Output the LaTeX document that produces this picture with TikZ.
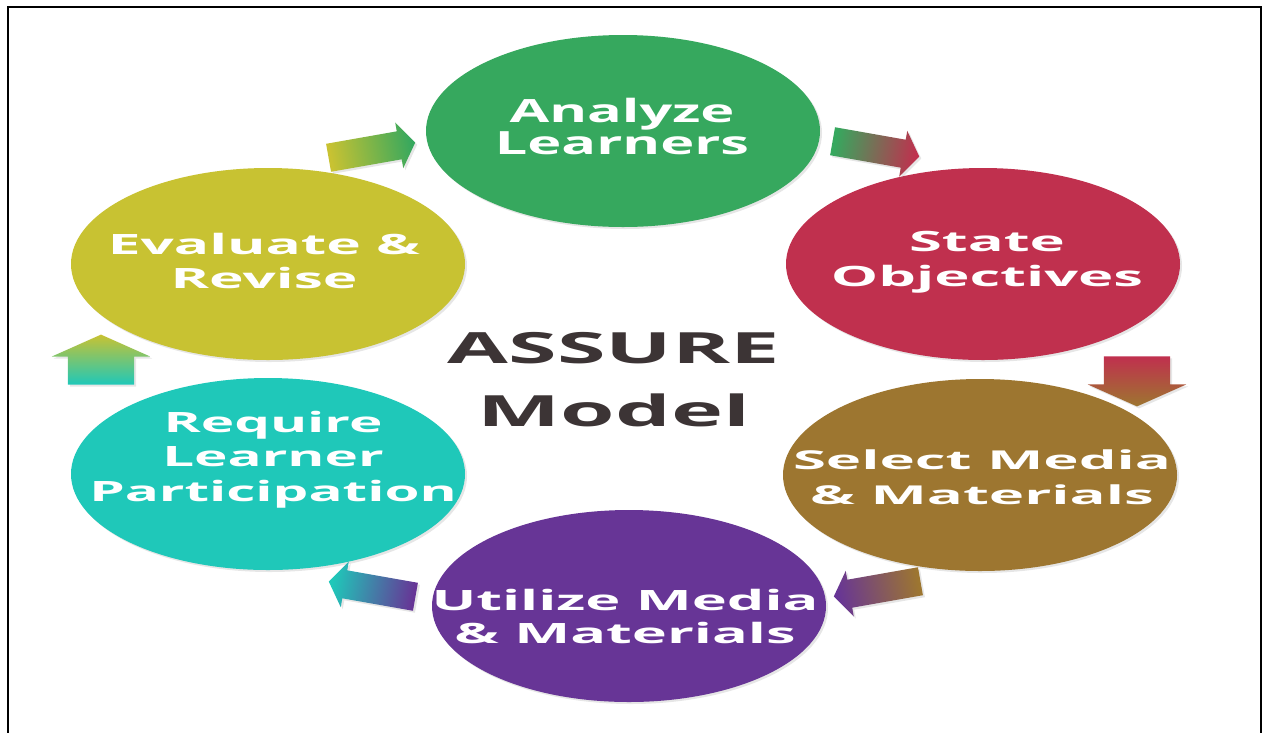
\documentclass[tikz,border=0pt]{standalone}
\usepackage{fontspec}
\setmainfont{Open Sans}
\usetikzlibrary{shapes.geometric,shapes.arrows,shadows}

\definecolor{anagreen}{RGB}{54,168,94}
\definecolor{stared}{RGB}{192,48,78}
\definecolor{selbrown}{RGB}{157,118,48}
\definecolor{utipurple}{RGB}{103,53,150}
\definecolor{reqteal}{RGB}{31,200,185}
\definecolor{evaolive}{RGB}{200,194,50}
\definecolor{titlegray}{RGB}{60,52,53}

% size, line skip, horizontal stretch, lines
\newcommand{\stagelines}[4]{\scalebox{#3}[1]{\fontsize{#1}{#2}\selectfont\bfseries
  \begin{tabular}{@{}c@{}}#4\end{tabular}}}

\begin{document}
\begin{tikzpicture}[x=1pt,y=-1pt,
    stage/.style={ellipse, minimum width=394pt, minimum height=192pt, inner sep=0pt,
      drop shadow={shadow xshift=2pt, shadow yshift=-2pt, opacity=0.2}},
    stagetext/.style={text=white, inner sep=0pt},
    flow/.style={single arrow, inner xsep=0pt, inner ysep=14pt, minimum height=88pt,
      single arrow head extend=9pt, single arrow tip angle=110,
      drop shadow={shadow xshift=2pt, shadow yshift=-2pt, opacity=0.2}},
    upflow/.style={single arrow, inner xsep=0pt, inner ysep=33pt, minimum height=50pt,
      single arrow head extend=16pt, single arrow tip angle=132,
      drop shadow={shadow xshift=2pt, shadow yshift=-2pt, opacity=0.2}}]
    \useasboundingbox (0,0) rectangle (1263,732);
    \draw[line width=2.5pt] (8,745) -- (8,7) -- (1261,7) -- (1261,745);

    % the six stages
    \node[stage, fill=anagreen] (ana) at (623,131) {};
    \node[stage, fill=stared] (sta) at (983,264) {};
    \node[stage, fill=selbrown] (sel) at (980,475) {};
    \node[stage, fill=utipurple] (uti) at (629,606) {};
    \node[stage, fill=reqteal] (req) at (268,474) {};
    \node[stage, fill=evaolive] (eva) at (268,264) {};

    \node[stagetext] (anatext) at (622,131) {\stagelines{32}{31}{1.8}{Analyze\\Learners}};
    \node[stagetext] (statext) at (987,262) {\stagelines{28}{35}{2.13}{State\\Objectives}};
    \node[stagetext] (seltext) at (982,480) {\stagelines{26}{35}{2.3}{Select Media\\\& Materials}};
    \node[stagetext] (utitext) at (625,620) {\stagelines{28}{33}{2.12}{Utilize Media\\\& Materials}};
    \node[stagetext] (reqtext) at (273,460) {\stagelines{28}{34.5}{2.02}{Require\\Learner\\Participation}};
    \node[stagetext] (evatext) at (264,265) {\stagelines{28}{34}{2.09}{Evaluate \&\\Revise}};

    \node[text=titlegray, inner sep=0pt] (title) at (614,382)
        {\stagelines{43}{63}{2.05}{ASSURE\\Model}};

    % arrows between the stages (shading angle = direction - 90)
    \node[flow, rotate=-10, bottom color=anagreen, top color=stared, shading angle=-100] (ana-sta) at (871,148) {};
    \node[upflow, rotate=-90, bottom color=stared, top color=selbrown, shading angle=180] (sta-sel) at (1137,374) {};
    \node[flow, rotate=190, bottom color=selbrown, top color=utipurple, shading angle=100] (sel-uti) at (882,588) {};
    \node[flow, rotate=170, bottom color=utipurple, top color=reqteal, shading angle=80] (uti-req) at (377,590) {};
    \node[upflow, rotate=90, bottom color=reqteal, top color=evaolive, shading angle=0] (req-eva) at (101,367) {};
    \node[flow, rotate=10, bottom color=evaolive, top color=anagreen, shading angle=-80] (eva-ana) at (367,151) {};
\end{tikzpicture}
\end{document}
